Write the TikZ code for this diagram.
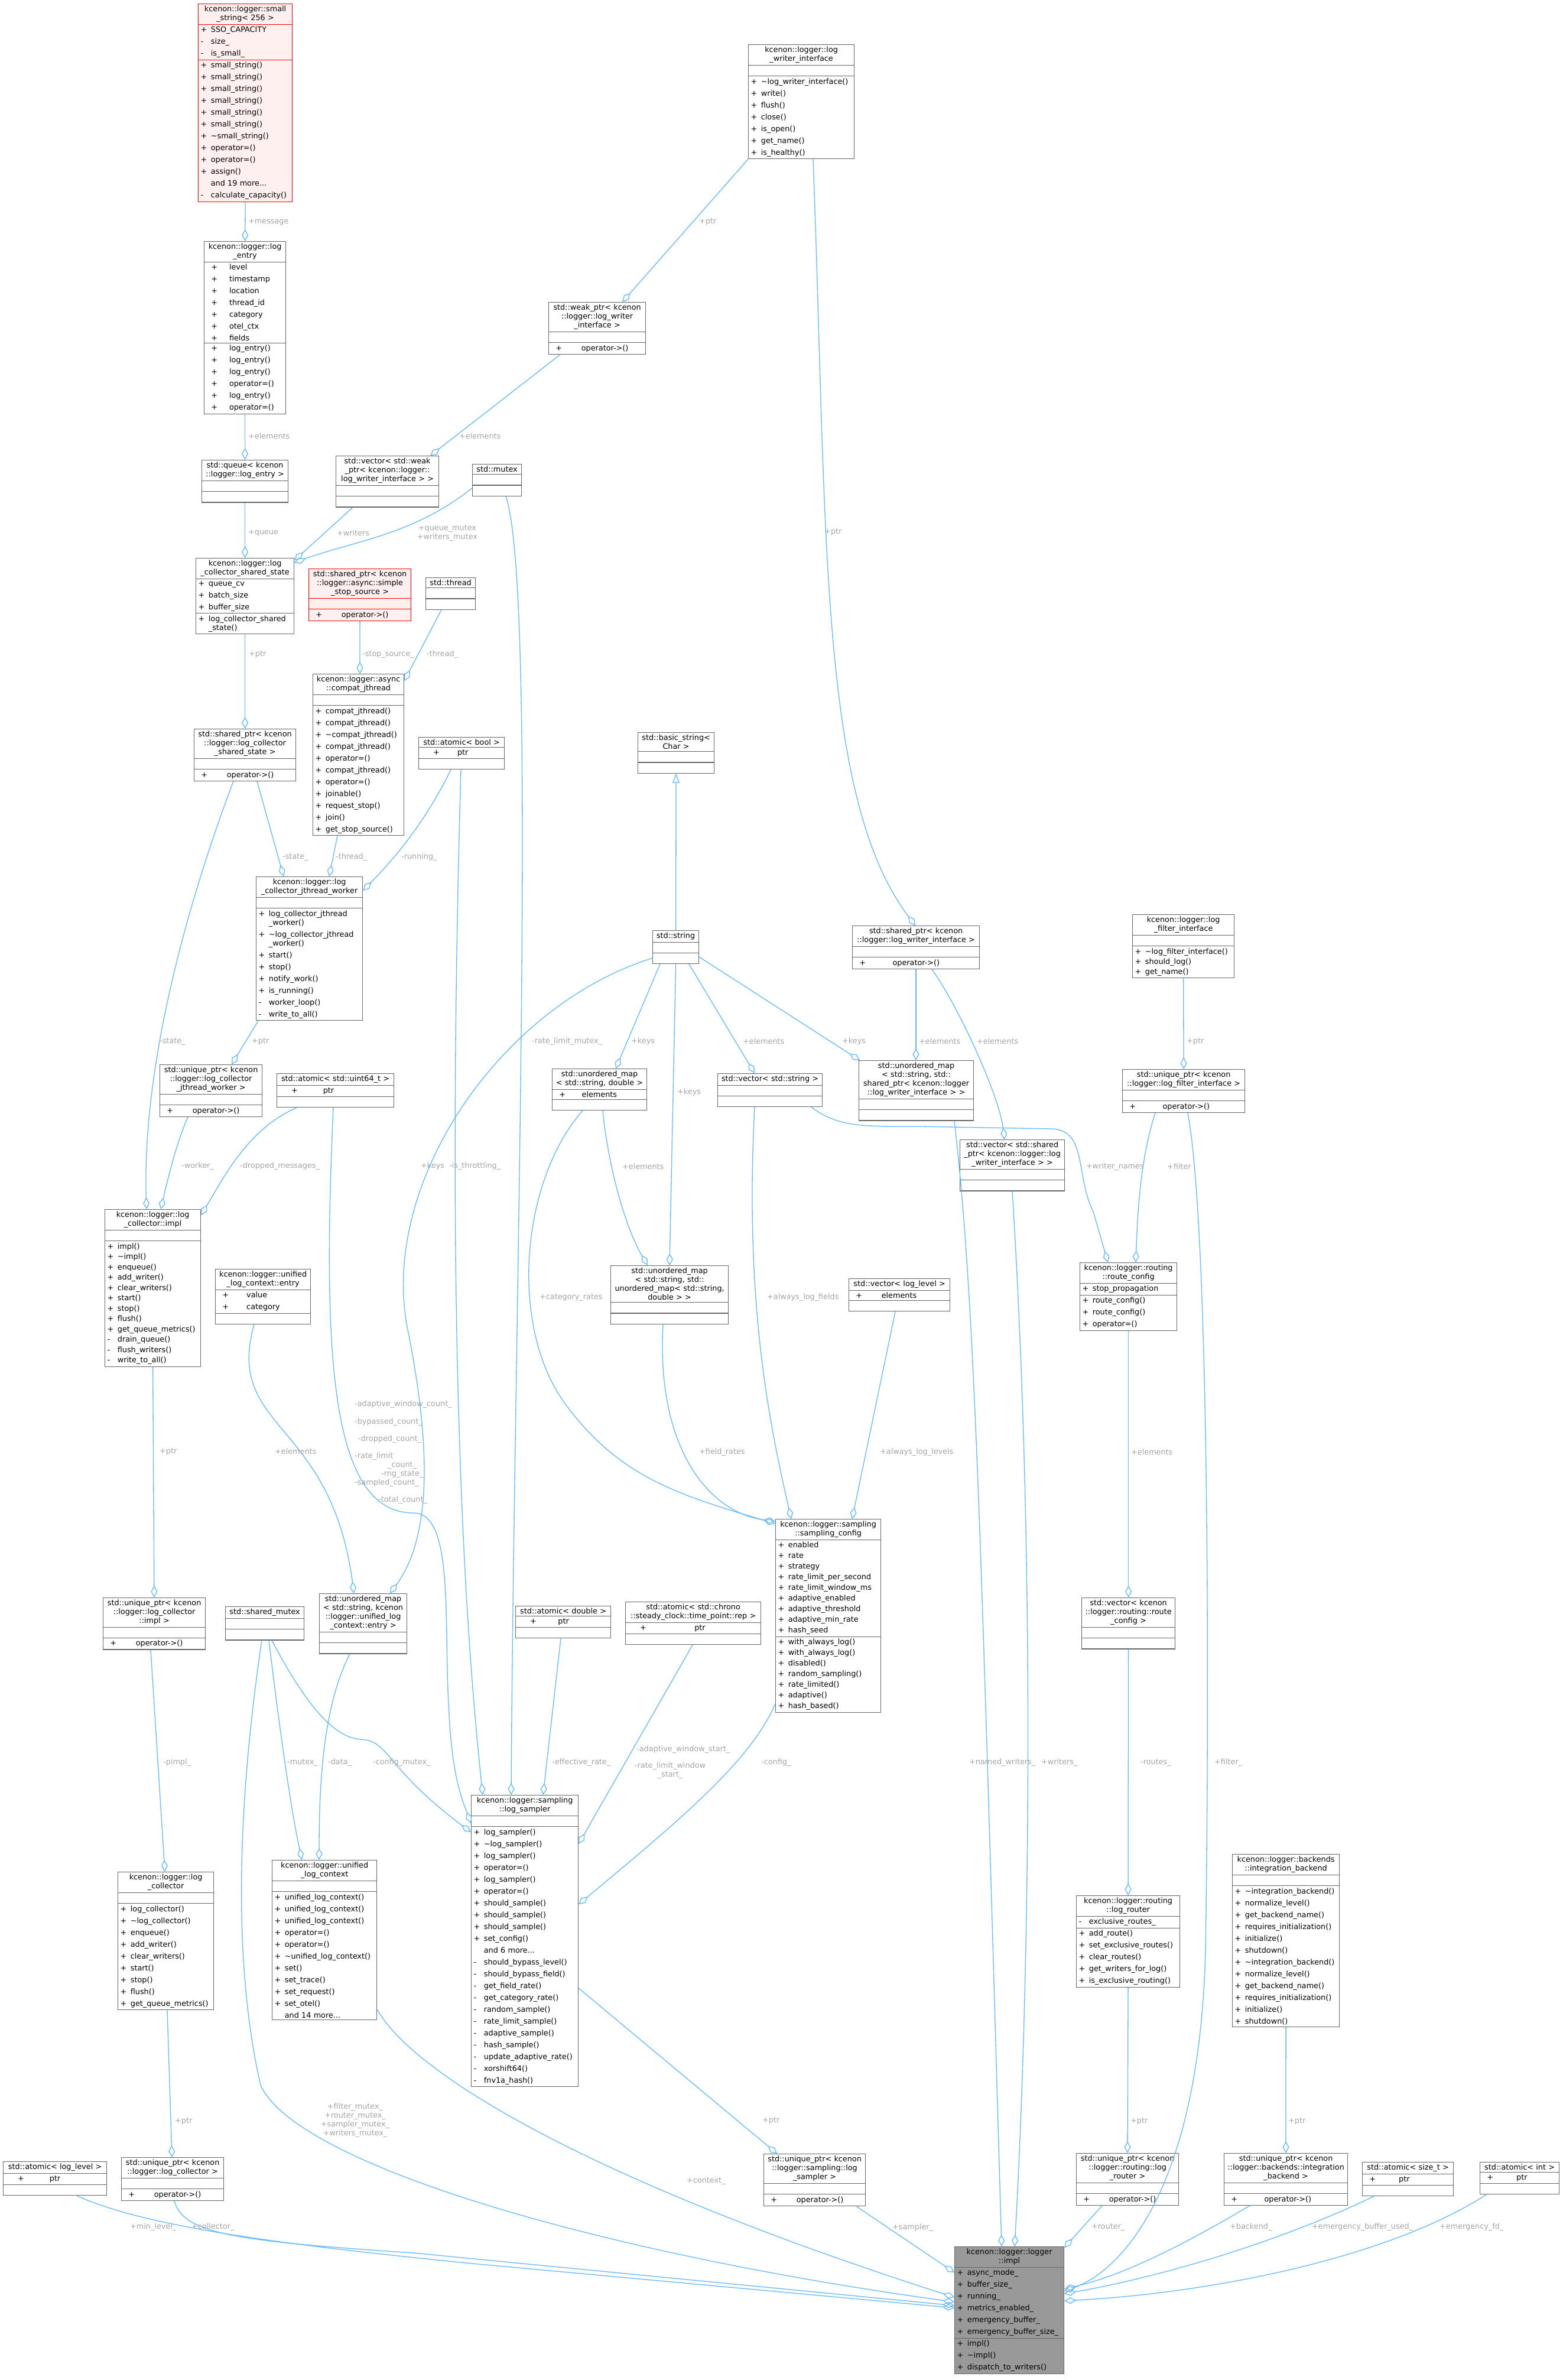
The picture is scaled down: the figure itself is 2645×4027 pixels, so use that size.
\documentclass[tikz,border=0pt]{standalone}
\usepackage{fontspec}
\setmainfont{DejaVu Sans}
\usetikzlibrary{shapes.multipart,arrows.meta}
\definecolor{boxc}{RGB}{102,102,102}
\definecolor{edgec}{RGB}{99,184,255}
\definecolor{lblc}{RGB}{165,165,165}
\definecolor{pinkbg}{RGB}{255,240,240}
\definecolor{grayfill}{RGB}{153,153,153}
\newcommand\fsz{\fontsize{12.8}{20}\selectfont}
\newcommand\T[1]{\fontsize{12.8}{15}\selectfont\centering #1\par}
\newcommand\M[1]{\raggedright #1\par}
\newcommand\E{\rule{0pt}{11pt}}
\newcommand\rw[2]{\makebox[1.35em][l]{#1}#2}
\newcommand\mw[2]{\hspace*{0.6em}\makebox[2.4em][l]{#1}#2}
\newcommand\pw[2]{\hspace*{1.6em}\makebox[3.2em][l]{#1}#2}
\newcommand\tld{\textasciitilde}
\tikzset{
 cls/.style={rectangle split, rectangle split parts=3, draw=boxc, fill=white, line width=1.2pt,
   text width=#1pt, inner xsep=4pt, inner ysep=3pt, anchor=north west, font=\fsz},
 rcls/.style={cls=#1, draw=red},
 edge/.style={draw=edgec, line width=1.3pt, -{Diamond[open,length=20pt,width=11pt]}},
 inh/.style={draw=edgec, line width=1.3pt, -{Triangle[open,length=16pt,width=12pt]}},
 lbl/.style={text=lblc, font=\fsz, anchor=west, inner sep=0pt, align=left},
 lblc/.style={text=lblc, font=\fontsize{12.8}{15}\selectfont, anchor=center, inner sep=0pt, align=center}
}
\begin{document}
\begin{tikzpicture}[x=1pt,y=-1pt]
\useasboundingbox[fill=white] (0,0) rectangle (2645,4027);
% ---------- boxes ----------
\node[rcls=151, fill=pinkbg] (ss) at (335,6) {\T{kcenon::logger::small\\\_string< 256 >}
 \nodepart{two}\M{\rw{+}{SSO\_CAPACITY}\\\rw{-}{size\_}\\\rw{-}{is\_small\_}}
 \nodepart{three}\M{\rw{+}{small\_string()}\\\rw{+}{small\_string()}\\\rw{+}{small\_string()}\\\rw{+}{small\_string()}\\\rw{+}{small\_string()}\\\rw{+}{small\_string()}\\\rw{+}{\tld small\_string()}\\\rw{+}{operator=()}\\\rw{+}{operator=()}\\\rw{+}{assign()}\\\rw{}{and 19 more...}\\\rw{-}{calculate\_capacity()}}};
\node[cls=130] (le) at (345,408) {\T{kcenon::logger::log\\\_entry}
 \nodepart{two}\M{\mw{+}{level}\\\mw{+}{timestamp}\\\mw{+}{location}\\\mw{+}{thread\_id}\\\mw{+}{category}\\\mw{+}{otel\_ctx}\\\mw{+}{fields}}
 \nodepart{three}\M{\mw{+}{log\_entry()}\\\mw{+}{log\_entry()}\\\mw{+}{log\_entry()}\\\mw{+}{operator=()}\\\mw{+}{log\_entry()}\\\mw{+}{operator=()}}};
\node[cls=138] (q) at (341,778) {\T{std::queue< kcenon\\::logger::log\_entry >}\nodepart{two}\E\nodepart{three}\E};
\node[cls=166] (vw) at (568,771) {\T{std::vector< std::weak\\\_ptr< kcenon::logger::\\log\_writer\_interface > >}\nodepart{two}\E\nodepart{three}\E};
\node[cls=75] (mx) at (799,785) {\T{std::mutex}\nodepart{two}\E\nodepart{three}\E};
\node[cls=171] (wi) at (1266,75) {\T{kcenon::logger::log\\\_writer\_interface}\nodepart{two}\E
 \nodepart{three}\M{\rw{+}{\tld log\_writer\_interface()}\\\rw{+}{write()}\\\rw{+}{flush()}\\\rw{+}{close()}\\\rw{+}{is\_open()}\\\rw{+}{get\_name()}\\\rw{+}{is\_healthy()}}};
\node[cls=156] (wp) at (928,511) {\T{std::weak\_ptr< kcenon\\::logger::log\_writer\\\_interface >}\nodepart{two}\E\nodepart{three}\M{\mw{+}{\hspace{1em}operator->()}}};
\node[cls=158] (st) at (331,944) {\T{kcenon::logger::log\\\_collector\_shared\_state}
 \nodepart{two}\M{\rw{+}{queue\_cv}\\\rw{+}{batch\_size}\\\rw{+}{buffer\_size}}
 \nodepart{three}\fontsize{12.8}{15}\selectfont\M{\rw{+}{log\_collector\_shared}\\\rw{}{\_state()}}};
\node[rcls=165, fill=pinkbg] (sr) at (522,962) {\T{std::shared\_ptr< kcenon\\::logger::async::simple\\\_stop\_source >}\nodepart{two}\E\nodepart{three}\M{\mw{+}{\hspace{1em}operator->()}}};
\node[cls=76] (th) at (720,977) {\T{std::thread}\nodepart{two}\E\nodepart{three}\E};
\node[cls=164] (sps) at (328,1233) {\T{std::shared\_ptr< kcenon\\::logger::log\_collector\\\_shared\_state >}\nodepart{two}\E\nodepart{three}\M{\mw{+}{\hspace{1em}operator->()}}};
\node[cls=146] (cj) at (529,1140) {\T{kcenon::logger::async\\::compat\_jthread}\nodepart{two}\E
 \nodepart{three}\M{\rw{+}{compat\_jthread()}\\\rw{+}{compat\_jthread()}\\\rw{+}{\tld compat\_jthread()}\\\rw{+}{compat\_jthread()}\\\rw{+}{operator=()}\\\rw{+}{compat\_jthread()}\\\rw{+}{operator=()}\\\rw{+}{joinable()}\\\rw{+}{request\_stop()}\\\rw{+}{join()}\\\rw{+}{get\_stop\_source()}}};
\node[cls=137] (ab) at (708,1247) {\T{std::atomic< bool >}\nodepart{two}\M{\pw{+}{ptr}}\nodepart{three}\E};
\node[cls=172] (jw) at (433,1483) {\T{kcenon::logger::log\\\_collector\_jthread\_worker}\nodepart{two}\E
 \nodepart{three}\M{\rw{+}{log\_collector\_jthread}\\[-5pt]\rw{}{\_worker()}\\\rw{+}{\tld log\_collector\_jthread}\\[-5pt]\rw{}{\_worker()}\\\rw{+}{start()}\\\rw{+}{stop()}\\\rw{+}{notify\_work()}\\\rw{+}{is\_running()}\\\rw{-}{worker\_loop()}\\\rw{-}{write\_to\_all()}}};
\node[cls=165] (ujw) at (270,1801) {\T{std::unique\_ptr< kcenon\\::logger::log\_collector\\\_jthread\_worker >}\nodepart{two}\E\nodepart{three}\M{\mw{+}{\hspace{1em}operator->()}}};
\node[cls=190] (au) at (468,1816) {\T{std::atomic< std::uint64\_t >}\nodepart{two}\M{\pw{+}{\hspace{1em}ptr}}\nodepart{three}\E};
\node[cls=154] (lci) at (177,2046) {\T{kcenon::logger::log\\\_collector::impl}\nodepart{two}\E
 \nodepart{three}\fontsize{12.8}{17.5}\selectfont\M{\rw{+}{impl()}\\\rw{+}{\tld impl()}\\\rw{+}{enqueue()}\\\rw{+}{add\_writer()}\\\rw{+}{clear\_writers()}\\\rw{+}{start()}\\\rw{+}{stop()}\\\rw{+}{flush()}\\\rw{+}{get\_queue\_metrics()}\\\rw{-}{drain\_queue()}\\\rw{-}{flush\_writers()}\\\rw{-}{write\_to\_all()}}};
\node[cls=153] (ent) at (364,2147) {\T{kcenon::logger::unified\\\_log\_context::entry}\nodepart{two}\M{\mw{+}{\hspace{0.8em}value}\\\mw{+}{\hspace{0.8em}category}}\nodepart{three}\E};
\node[cls=165] (uli) at (174,2703) {\T{std::unique\_ptr< kcenon\\::logger::log\_collector\\::impl >}\nodepart{two}\E\nodepart{three}\M{\mw{+}{\hspace{1em}operator->()}}};
\node[cls=125] (sm) at (381,2718) {\T{std::shared\_mutex}\nodepart{two}\E\nodepart{three}\E};
\node[cls=140] (ume) at (540,2696) {\T{std::unordered\_map\\< std::string, kcenon\\::logger::unified\_log\\\_context::entry >}\nodepart{two}\E\nodepart{three}\E};
\node[cls=154] (lc) at (199,3167) {\T{kcenon::logger::log\\\_collector}\nodepart{two}\E
 \nodepart{three}\M{\rw{+}{log\_collector()}\\\rw{+}{\tld log\_collector()}\\\rw{+}{enqueue()}\\\rw{+}{add\_writer()}\\\rw{+}{clear\_writers()}\\\rw{+}{start()}\\\rw{+}{stop()}\\\rw{+}{flush()}\\\rw{+}{get\_queue\_metrics()}}};
\node[cls=169] (ulc) at (460,3147) {\T{kcenon::logger::unified\\\_log\_context}\nodepart{two}\E
 \nodepart{three}\M{\rw{+}{unified\_log\_context()}\\\rw{+}{unified\_log\_context()}\\\rw{+}{unified\_log\_context()}\\\rw{+}{operator=()}\\\rw{+}{operator=()}\\\rw{+}{\tld unified\_log\_context()}\\\rw{+}{set()}\\\rw{+}{set\_trace()}\\\rw{+}{set\_request()}\\\rw{+}{set\_otel()}\\\rw{}{and 14 more...}}};
\node[cls=167] (all) at (5,3657) {\T{std::atomic< log\_level >}\nodepart{two}\M{\pw{+}{\hspace{1em}ptr}}\nodepart{three}\E};
\node[cls=165] (ulog) at (205,3650) {\T{std::unique\_ptr< kcenon\\::logger::log\_collector >}\nodepart{two}\E\nodepart{three}\M{\mw{+}{\hspace{1em}operator->()}}};
\node[cls=173] (ls) at (797,3037) {\T{kcenon::logger::sampling\\::log\_sampler}\nodepart{two}\E
 \nodepart{three}\M{\rw{+}{log\_sampler()}\\\rw{+}{\tld log\_sampler()}\\\rw{+}{log\_sampler()}\\\rw{+}{operator=()}\\\rw{+}{log\_sampler()}\\\rw{+}{operator=()}\\\rw{+}{should\_sample()}\\\rw{+}{should\_sample()}\\\rw{+}{should\_sample()}\\\rw{+}{set\_config()}\\\rw{}{and 6 more...}\\\rw{-}{should\_bypass\_level()}\\\rw{-}{should\_bypass\_field()}\\\rw{-}{get\_field\_rate()}\\\rw{-}{get\_category\_rate()}\\\rw{-}{random\_sample()}\\\rw{-}{rate\_limit\_sample()}\\\rw{-}{adaptive\_sample()}\\\rw{-}{hash\_sample()}\\\rw{-}{update\_adaptive\_rate()}\\\rw{-}{xorshift64()}\\\rw{-}{fnv1a\_hash()}}};
\node[cls=153] (ad) at (872,2717) {\T{std::atomic< double >}\nodepart{two}\M{\pw{+}{\hspace{0.5em}ptr}}\nodepart{three}\E};
\node[cls=221] (ac) at (1058,2710) {\T{std::atomic< std::chrono\\::steady\_clock::time\_point::rep >}\nodepart{two}\M{\pw{+}{\hspace{4em}ptr}}\nodepart{three}\E};
\node[cls=170] (sc) at (1312,2570) {\T{kcenon::logger::sampling\\::sampling\_config}
 \nodepart{two}\fontsize{12.8}{18}\selectfont\M{\rw{+}{enabled}\\\rw{+}{rate}\\\rw{+}{strategy}\\\rw{+}{rate\_limit\_per\_second}\\\rw{+}{rate\_limit\_window\_ms}\\\rw{+}{adaptive\_enabled}\\\rw{+}{adaptive\_threshold}\\\rw{+}{adaptive\_min\_rate}\\\rw{+}{hash\_seed}}
 \nodepart{three}\fontsize{12.8}{18}\selectfont\M{\rw{+}{with\_always\_log()}\\\rw{+}{with\_always\_log()}\\\rw{+}{disabled()}\\\rw{+}{random\_sampling()}\\\rw{+}{rate\_limited()}\\\rw{+}{adaptive()}\\\rw{+}{hash\_based()}}};
\node[cls=121] (bs) at (1079,1239) {\T{std::basic\_string<\\Char >}\nodepart{two}\E\nodepart{three}\E};
\node[cls=70] (str) at (1104,1574) {\T{std::string}\nodepart{two}\E\nodepart{three}\E};
\node[cls=207] (swi) at (1442,1566) {\T{std::shared\_ptr< kcenon\\::logger::log\_writer\_interface >}\nodepart{two}\E\nodepart{three}\M{\mw{+}{\hspace{2em}operator->()}}};
\node[cls=152] (usd) at (934,1808) {\T{std::unordered\_map\\< std::string, double >}\nodepart{two}\M{\mw{+}{\hspace{0.6em}elements}}\nodepart{three}\E};
\node[cls=169] (vs) at (1214,1816) {\T{std::vector< std::string >}\nodepart{two}\E\nodepart{three}\E};
\node[cls=186] (usw) at (1453,1794) {\T{std::unordered\_map\\< std::string, std::\\shared\_ptr< kcenon::logger\\::log\_writer\_interface > >}\nodepart{two}\E\nodepart{three}\E};
\node[cls=169] (vsw) at (1624,1928) {\T{std::vector< std::shared\\\_ptr< kcenon::logger::log\\\_writer\_interface > >}\nodepart{two}\E\nodepart{three}\E};
\node[cls=191] (un) at (1033,2141) {\T{std::unordered\_map\\< std::string, std::\\unordered\_map< std::string,\\double > >}\nodepart{two}\E\nodepart{three}\E};
\node[cls=163] (vll) at (1436,2163) {\T{std::vector< log\_level >}\nodepart{two}\M{\mw{+}{\hspace{1em}elements}}\nodepart{three}\E};
\node[cls=164] (fi) at (1916,1547) {\T{kcenon::logger::log\\\_filter\_interface}\nodepart{two}\E
 \nodepart{three}\fontsize{12.8}{17}\selectfont\M{\rw{+}{\tld log\_filter\_interface()}\\\rw{+}{should\_log()}\\\rw{+}{get\_name()}}};
\node[cls=199] (ufi) at (1899,1809) {\T{std::unique\_ptr< kcenon\\::logger::log\_filter\_interface >}\nodepart{two}\E\nodepart{three}\M{\mw{+}{\hspace{2em}operator->()}}};
\node[cls=156] (rc) at (1827,2136) {\T{kcenon::logger::routing\\::route\_config}\nodepart{two}\M{\rw{+}{stop\_propagation}}
 \nodepart{three}\M{\rw{+}{route\_config()}\\\rw{+}{route\_config()}\\\rw{+}{operator=()}}};
\node[cls=150] (vrc) at (1830,2703) {\T{std::vector< kcenon\\::logger::routing::route\\\_config >}\nodepart{two}\E\nodepart{three}\E};
\node[cls=167] (lr) at (1821,3207) {\T{kcenon::logger::routing\\::log\_router}\nodepart{two}\M{\rw{-}{exclusive\_routes\_}}
 \nodepart{three}\M{\rw{+}{add\_route()}\\\rw{+}{set\_exclusive\_routes()}\\\rw{+}{clear\_routes()}\\\rw{+}{get\_writers\_for\_log()}\\\rw{+}{is\_exclusive\_routing()}}};
\node[cls=173] (ib) at (2085,3137) {\T{kcenon::logger::backends\\::integration\_backend}\nodepart{two}\E
 \nodepart{three}\M{\rw{+}{\tld integration\_backend()}\\\rw{+}{normalize\_level()}\\\rw{+}{get\_backend\_name()}\\\rw{+}{requires\_initialization()}\\\rw{+}{initialize()}\\\rw{+}{shutdown()}\\\rw{+}{\tld integration\_backend()}\\\rw{+}{normalize\_level()}\\\rw{+}{get\_backend\_name()}\\\rw{+}{requires\_initialization()}\\\rw{+}{initialize()}\\\rw{+}{shutdown()}}};
\node[cls=165] (ur) at (1821,3643) {\T{std::unique\_ptr< kcenon\\::logger::routing::log\\\_router >}\nodepart{two}\E\nodepart{three}\M{\mw{+}{\hspace{1em}operator->()}}};
\node[cls=201] (ub) at (2071,3643) {\T{std::unique\_ptr< kcenon\\::logger::backends::integration\\\_backend >}\nodepart{two}\E\nodepart{three}\M{\mw{+}{\hspace{2em}operator->()}}};
\node[cls=146] (as) at (2305,3658) {\T{std::atomic< size\_t >}\nodepart{two}\M{\mw{+}{\hspace{1.5em}ptr}}\nodepart{three}\E};
\node[cls=126] (ai) at (2504,3658) {\T{std::atomic< int >}\nodepart{two}\M{\mw{+}{\hspace{1.5em}ptr}}\nodepart{three}\E};
\node[cls=164] (us) at (1292,3644) {\T{std::unique\_ptr< kcenon\\::logger::sampling::log\\\_sampler >}\nodepart{two}\E\nodepart{three}\M{\mw{+}{\hspace{1em}operator->()}}};
\node[cls=177, fill=grayfill] (li) at (1615,3801) {\T{kcenon::logger::logger\\::impl}
 \nodepart{two}\M{\rw{+}{async\_mode\_}\\\rw{+}{buffer\_size\_}\\\rw{+}{running\_}\\\rw{+}{metrics\_enabled\_}\\\rw{+}{emergency\_buffer\_}\\\rw{+}{emergency\_buffer\_size\_}}
 \nodepart{three}\M{\rw{+}{impl()}\\\rw{+}{\tld impl()}\\\rw{+}{dispatch\_to\_writers()}}};
% ---------- connectors ----------
\draw[edge] (ss.south) -- (le.north);
\draw[edge] (le.south) -- (q.north);
\draw[edge] (q.south) -- (st.north);
\draw[edge] ([xshift=29]vw.south west) -- ([yshift=-4]st.north east);
\draw[edge] ([yshift=14]mx.south west) .. controls (700,905) and (600,915) .. ([yshift=-8]st.north east);
\draw[edge] ([xshift=20]wp.south west) -- ([xshift=-15]vw.north east);
\draw[edge] (wi.south west) -- ([xshift=-40]wp.north east);
\draw[edge] ([xshift=110]wi.south west) .. controls (1400,900) and (1385,1350) .. ([xshift=107]swi.north west);
\draw[edge] (st.south) -- (sps.north);
\draw[edge] (sr.south) -- ([xshift=80]cj.north west);
\draw[edge] ([xshift=27]th.south west) -- ([yshift=-12]cj.north east);
\draw[edge] ([xshift=107]sps.south west) -- ([xshift=47]jw.north west);
\draw[edge] ([xshift=42]cj.south west) -- ([xshift=124]jw.north west);
\draw[edge] ([xshift=55]ab.south west) .. controls (720,1390) and (670,1450) .. ([yshift=-24]jw.north east);
\draw[edge] ([xshift=4]jw.south west) -- ([xshift=122]ujw.north west);
\draw[edge] ([xshift=67]sps.south west) .. controls (320,1520) and (240,1800) .. ([xshift=71]lci.north west);
\draw[edge] ([xshift=48]ujw.south west) .. controls (300,1930) and (285,1990) .. ([xshift=95]lci.north west);
\draw[edge] ([xshift=34]au.south west) .. controls (420,1910) and (380,1990) .. ([yshift=-10]lci.north east);
\draw[edge] (lci.south) -- ([xshift=87]uli.north west);
\draw[edge] ([xshift=81]uli.south west) -- ([xshift=80]lc.north west);
\draw[edge] ([xshift=84]lc.south west) -- ([xshift=86]ulog.north west);
\draw[edge] ([xshift=66]ent.south west) .. controls (380,2420) and (560,2400) .. ([xshift=59]ume.north west);
\draw[edge] ([yshift=10]str.south west) .. controls (850,1700) and (640,2000) .. (690,2250) .. controls (730,2450) and (730,2600) .. ([xshift=120]ume.north west);
\draw[edge] ([xshift=52]ume.south west) .. controls (550,2880) and (540,3000) .. ([xshift=80]ulc.north west);
\draw[edge] ([xshift=74]sm.south west) .. controls (470,2900) and (490,3050) .. ([xshift=51]ulc.north west);
\draw[edge] ([xshift=79]sm.south west) .. controls (510,2870) and (560,2940) .. (610,2943) .. controls (660,2945) and (650,2990) .. ([yshift=-63]ls.north west);
\draw[edge] ([xshift=62]sm.south west) .. controls (395,3100) and (400,3350) .. (441,3528) .. controls (500,3660) and (1000,3810) .. ([yshift=-94]li.north west);
\draw[edge] ([xshift=96]au.south west) .. controls (545,2300) and (560,2560) .. (700,2560) .. controls (770,2560) and (750,2750) .. (760,2900) .. controls (765,3000) and (780,3040) .. ([yshift=-48]ls.north west);
\draw[edge] ([xshift=72]ab.south west) .. controls (760,2000) and (770,2600) .. ([xshift=20]ls.north west);
\draw[edge] ([xshift=57]mx.south west) .. controls (910,1000) and (870,2200) .. ([xshift=68]ls.north west);
\draw[edge] ([xshift=77]ad.south west) -- ([xshift=122]ls.north west);
\draw[edge] ([xshift=114]ac.south west) -- ([yshift=-83]ls.north east);
\draw[edge] ([yshift=15]sc.south west) .. controls (1270,2980) and (1150,3080) .. ([yshift=-185]ls.north east);
\draw[edge] ([xshift=13]str.south west) -- ([xshift=108]usd.north west);
\draw[edge] (str.south) -- ([xshift=100]un.north west);
\draw[edge] ([xshift=62]str.south west) -- ([xshift=63]vs.north west);
\draw[edge] ([yshift=12]str.south east) -- ([xshift=2]usw.north west);
\draw[inh] (str.north) -- (bs.south);
\draw[edge] ([xshift=86]usd.south west) .. controls (1030,1980) and (1060,2080) .. ([xshift=63]un.north west);
\draw[edge] ([xshift=52]usd.south west) .. controls (880,2000) and (860,2250) .. (960,2380) .. controls (1050,2500) and (1150,2530) .. ([yshift=-8]sc.north west);
\draw[edge] ([xshift=89]un.south west) .. controls (1110,2450) and (1200,2560) .. ([yshift=-4]sc.north west);
\draw[edge] ([xshift=63]vs.south west) .. controls (1260,2200) and (1300,2400) .. ([xshift=27]sc.north west);
\draw[edge] ([xshift=79]vll.south west) -- ([xshift=130]sc.north west);
\draw[edge] ([xshift=108]swi.south west) -- ([xshift=97]usw.north west);
\draw[edge] ([xshift=135]swi.south west) .. controls (1620,1700) and (1690,1850) .. ([xshift=76]vsw.north west);
\draw[edge] ([xshift=159]vs.south west) .. controls (1420,1908) and (1460,1906) .. (1560,1906) -- (1780,1910) .. controls (1840,1912) and (1820,1990) .. (1850,2050) -- ([xshift=48]rc.north west);
\draw[edge] ([xshift=56]ufi.south west) .. controls (1930,1960) and (1925,2050) .. ([xshift=95]rc.north west);
\draw[edge] (fi.south) -- (ufi.north);
\draw[edge] (rc.south) -- (vrc.north);
\draw[edge] (vrc.south) -- (lr.north);
\draw[edge] (lr.south) -- ([xshift=87]ur.north west);
\draw[edge] (ib.south) -- ([xshift=105]ub.north west);
\draw[edge] ([xshift=162]usw.south west) .. controls (1650,2200) and (1660,2600) .. ([xshift=80]li.north west);
\draw[edge] ([xshift=89]vsw.south west) .. controls (1750,2600) and (1745,3300) .. ([xshift=102]li.north west);
\draw[edge] ([xshift=111]ufi.south west) .. controls (2050,2100) and (2045,3000) .. (2040,3300) .. controls (2030,3700) and (1900,3840) .. ([yshift=-76]li.north east);
\draw[edge] ([xshift=44]ur.south west) -- ([yshift=-2]li.north east);
\draw[edge] ([xshift=44]ub.south west) .. controls (2000,3800) and (1900,3850) .. ([yshift=-72]li.north east);
\draw[edge] ([xshift=20]as.south west) .. controls (2150,3800) and (1950,3855) .. ([yshift=-80]li.north east);
\draw[edge] ([xshift=11]ai.south west) .. controls (2350,3820) and (2050,3880) .. ([yshift=-92]li.north east);
\draw[edge] ([xshift=157]us.south west) -- ([yshift=-44]li.north west);
\draw[edge] ([yshift=-327]ls.north east) -- ([xshift=23]us.north west);
\draw[edge] ([yshift=-253]ulc.north east) .. controls (700,3510) and (1000,3690) .. ([yshift=-86]li.north west);
\draw[edge] ([xshift=125]all.south west) .. controls (250,3770) and (500,3800) .. (800,3830) -- ([yshift=-104]li.north west);
\draw[edge] ([xshift=90]ulog.south west) .. controls (310,3780) and (400,3792) .. (700,3812) -- ([yshift=-100]li.north west);
% ---------- labels ----------
\node[lbl] (l1) at (420,376) {+message};
\node[lbl] (l2) at (420,738) {+elements};
\node[lbl] (l3) at (777,738) {+elements};
\node[lbl] (l4) at (420,902) {+queue};
\node[lbl] (l5) at (570,902) {+writers};
\node[lblc] (l6) at (757,902) {+queue\_mutex\\+writers\_mutex};
\node[lbl] (l7) at (1183,375) {+ptr};
\node[lbl] (l8) at (1395,900) {+ptr};
\node[lbl] (l9) at (421,1107) {+ptr};
\node[lbl] (l10) at (613,1107) {-stop\_source\_};
\node[lbl] (l11) at (722,1107) {-thread\_};
\node[lbl] (l12) at (478,1450) {-state\_};
\node[lbl] (l13) at (568,1450) {-thread\_};
\node[lbl] (l14) at (679,1450) {-running\_};
\node[lbl] (l15) at (270,1762) {-state\_};
\node[lbl] (l16) at (426,1762) {+ptr};
\node[lbl] (l17) at (307,1973) {-worker\_};
\node[lbl] (l18) at (406,1973) {-dropped\_messages\_};
\node[lbl] (l19) at (712,1973) {+keys};
\node[lbl] (l20) at (760,1973) {-is\_throttling\_};
\node[lbl] (l21) at (900,1762) {-rate\_limit\_mutex\_};
\node[lbl] (l22) at (1068,1762) {+keys};
\node[lbl] (l23) at (1146,1848) {+keys};
\node[lbl] (l24) at (1257,1762) {+elements};
\node[lbl] (l25) at (1425,1762) {+keys};
\node[lbl] (l26) at (1555,1762) {+elements};
\node[lbl] (l27) at (1653,1762) {+elements};
\node[lbl] (l28) at (1053,1974) {+elements};
\node[lbl] (l29) at (1838,1974) {+writer\_names};
\node[lbl] (l30) at (1975,1974) {+filter};
\node[lbl] (l31) at (2008,1762) {+ptr};
\node[lbl] (l32) at (913,2195) {+category\_rates};
\node[lbl] (l33) at (1298,2195) {+always\_log\_fields};
\node[lbl] (l34) at (1183,2457) {+field\_rates};
\node[lbl] (l35) at (1489,2457) {+always\_log\_levels};
\node[lbl] (l36) at (1914,2457) {+elements};
\node[lbl] (l37) at (270,2456) {+ptr};
\node[lbl] (l38) at (465,2456) {+elements};
\node[lbl] (l39a) at (600,2376) {-adaptive\_window\_count\_};
\node[lbl] (l39b) at (600,2406) {-bypassed\_count\_};
\node[lbl] (l39c) at (606,2435) {-dropped\_count\_};
\node[lbl] (l39d) at (600,2464) {-rate\_limit};
\node[lbl] (l39e) at (656,2479) {\_count\_};
\node[lbl] (l39f) at (645,2494) {-rng\_state\_};
\node[lbl] (l39g) at (600,2509) {-sampled\_count\_};
\node[lbl] (l39h) at (640,2538) {-total\_count\_};
\node[lbl] (l40) at (276,2982) {-pimpl\_};
\node[lbl] (l41) at (486,2982) {-mutex\_};
\node[lbl] (l42) at (555,2982) {-data\_};
\node[lbl] (l43) at (631,2982) {-config\_mutex\_};
\node[lbl] (l44) at (934,2982) {-effective\_rate\_};
\node[lbl] (l45) at (1077,2960) {-adaptive\_window\_start\_};
\node[lblc] (l46) at (1134,2996) {-rate\_limit\_window\\\_start\_};
\node[lbl] (l47) at (1288,2982) {-config\_};
\node[lbl] (l48) at (1640,2982) {+named\_writers\_};
\node[lbl] (l49) at (1762,2982) {+writers\_};
\node[lbl] (l50) at (1930,2982) {-routes\_};
\node[lbl] (l51) at (2055,2982) {+filter\_};
\node[lblc] (l52) at (601,3588) {+filter\_mutex\_\\+router\_mutex\_\\+sampler\_mutex\_\\+writers\_mutex\_};
\node[lbl] (l53) at (296,3589) {+ptr};
\node[lbl] (l54) at (1290,3588) {+ptr};
\node[lbl] (l55) at (1913,3589) {+ptr};
\node[lbl] (l56) at (2180,3589) {+ptr};
\node[lbl] (l57) at (220,3768) {+min\_level\_};
\node[lbl] (l58) at (324,3768) {+collector\_};
\node[lbl] (l59) at (1162,3690) {+context\_};
\node[lbl] (l60) at (1510,3769) {+sampler\_};
\node[lbl] (l61) at (1847,3768) {+router\_};
\node[lbl] (l62) at (2081,3768) {+backend\_};
\node[lbl] (l63) at (2220,3768) {+emergency\_buffer\_used\_};
\node[lbl] (l64) at (2436,3768) {+emergency\_fd\_};
\end{tikzpicture}
\end{document}
